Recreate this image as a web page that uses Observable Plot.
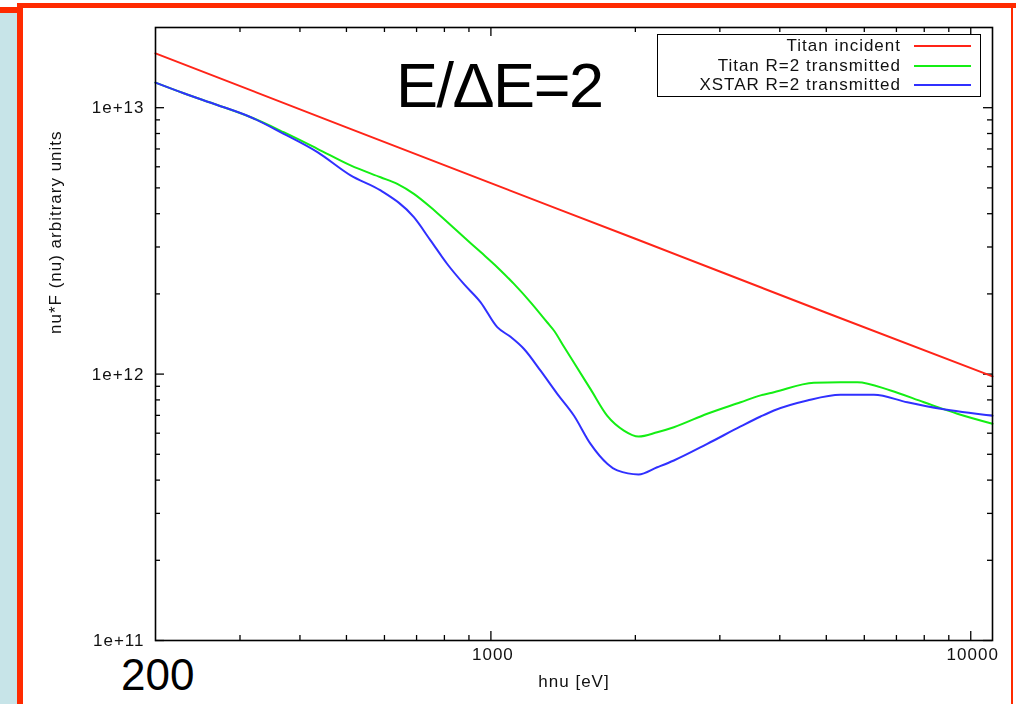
<!DOCTYPE html>
<html>
<head>
<meta charset="utf-8">
<script src="https://cdn.jsdelivr.net/npm/d3@7"></script>
<script src="https://cdn.jsdelivr.net/npm/@observablehq/plot@0.6"></script>
<style>
  html, body { margin: 0; padding: 0; background: #fff; }
  #page { position: relative; width: 1016px; height: 704px; overflow: hidden; background: #fff; font-family: "Liberation Sans", Arial, Helvetica, sans-serif; }
  #chart { position: absolute; left: 0; top: 0; }
  #chart svg { background: transparent; filter: blur(0.4px); }
  #chart svg text { letter-spacing: 1px; }
  .deco { position: absolute; }
  .slide-text { position: absolute; line-height: 1; color: #000; white-space: nowrap; }
  #legend { position: absolute; left: 657px; top: 34px; width: 322px; height: 61px; border: 1.5px solid #000; background: #fff; filter: blur(0.4px); }
  #legend .row { position: absolute; left: 0; width: 100%; height: 19px; }
  #legend .lab { position: absolute; right: 79px; top: 0; font-size: 17px; line-height: 19px; letter-spacing: 1px; color: #111; white-space: nowrap; }
  #legend .swatch { position: absolute; left: 256px; width: 57px; height: 2px; top: 9px; }
</style>
</head>
<body>
<div id="page">
  <div id="chart"></div>
  <!-- slide frame -->
  <div class="deco" style="left:0;top:13px;width:18px;height:691px;background:#c7e4e8;"></div>
  <div class="deco" style="left:0;top:7px;width:18px;height:6px;background:#ff2a00;"></div>
  <div class="deco" style="left:17px;top:3px;width:999px;height:5px;background:#ff2a00;"></div>
  <div class="deco" style="left:17px;top:3px;width:6px;height:701px;background:#ff2a00;"></div>
  <div class="deco" style="left:1011px;top:3px;width:2px;height:701px;background:#ff2a00;"></div>
  <div id="legend"></div>
  <div class="slide-text" style="left:396px;top:54px;font-size:63px;letter-spacing:-1.5px;">E/ΔE=2</div>
  <div class="slide-text" style="left:121px;top:653px;font-size:44px;">200</div>
</div>
<script>
// Photon energy hnu [eV] and nu*F(nu) in arbitrary units for each spectrum.
const incidentE = [200, 500, 1000, 2000, 5000, 11100];
const incidentF = [1.60e13, 8.44e12, 5.21e12, 3.22e12, 1.70e12, 9.8e11];

const titanE = [200, 229, 269, 316, 370, 435, 510, 589, 638, 691, 749, 811, 878, 952, 1031, 1117, 1210, 1311, 1353, 1419, 1489, 1613, 1748, 1893, 2031, 2221, 2406, 2824, 3314, 3648, 3889, 4710, 5354, 5802, 6807, 7988, 9376, 11100];
const titanF = [1.242e13, 1.133e13, 1.024e13, 9.21e12, 8.09e12, 7.01e12, 6.07e12, 5.48e12, 5.18e12, 4.75e12, 4.23e12, 3.72e12, 3.27e12, 2.87e12, 2.52e12, 2.18e12, 1.86e12, 1.562e12, 1.458e12, 1.27e12, 1.105e12, 8.78e11, 6.97e11, 6.14e11, 5.83e11, 6.05e11, 6.32e11, 7.10e11, 7.84e11, 8.32e11, 8.55e11, 9.27e11, 9.32e11, 9.32e11, 8.68e11, 7.84e11, 7.10e11, 6.51e11];

const xstarE = [200, 229, 269, 316, 370, 435, 510, 589, 691, 749, 811, 878, 952, 1031, 1099, 1171, 1269, 1375, 1489, 1613, 1748, 1834, 2031, 2221, 2406, 2824, 3314, 3648, 3889, 4564, 5354, 6283, 7376, 8654, 11100];
const xstarF = [1.242e13, 1.133e13, 1.024e13, 9.21e12, 7.98e12, 6.81e12, 5.57e12, 4.89e12, 3.88e12, 3.17e12, 2.59e12, 2.18e12, 1.86e12, 1.50e12, 1.38e12, 1.245e12, 1.03e12, 8.43e11, 6.99e11, 5.47e11, 4.61e11, 4.35e11, 4.20e11, 4.47e11, 4.74e11, 5.47e11, 6.36e11, 6.93e11, 7.30e11, 7.96e11, 8.36e11, 8.36e11, 7.84e11, 7.41e11, 6.98e11];

const seriesNames = ["Titan incident", "Titan R=2 transmitted", "XSTAR R=2 transmitted"];
const seriesColors = ["#ff2418", "#14ee14", "#3030ff"];

// Axis ticks
const xMajor = [1000, 10000];
const xMinor = [300, 400, 500, 600, 700, 800, 900, 2000, 3000, 4000, 5000, 6000, 7000, 8000, 9000];
const xTickLabels = ["1000", "10000"];
const yMajor = [1e11, 1e12, 1e13];
const yMinor = [2e11, 3e11, 4e11, 5e11, 6e11, 7e11, 8e11, 9e11, 2e12, 3e12, 4e12, 5e12, 6e12, 7e12, 8e12, 9e12];
const yTickLabels = ["1e+11", "1e+12", "1e+13"];

const xTitle = "hnu [eV]";
const yTitle = "nu*F (nu) arbitrary units";

const toRows = (E, F, name) => E.map((e, i) => ({e, f: F[i], name}));
const spectra = [
  toRows(incidentE, incidentF, seriesNames[0]),
  toRows(titanE, titanF, seriesNames[1]),
  toRows(xstarE, xstarF, seriesNames[2])
];

const W = 1016, H = 704;
const mL = 155, mR = 24, mT = 27, mB = 64;
const innerW = W - mL - mR, innerH = H - mT - mB;
const major = 9, minor = 5;
const ink = "#000";

const tickMarks = (vals, len) => [
  Plot.tickX(vals, {x: d => d, insetTop: innerH - len, stroke: ink, strokeWidth: 1.3}),
  Plot.tickX(vals, {x: d => d, insetBottom: innerH - len, stroke: ink, strokeWidth: 1.3})
];
const tickMarksY = (vals, len) => [
  Plot.tickY(vals, {y: d => d, insetRight: innerW - len, stroke: ink, strokeWidth: 1.3}),
  Plot.tickY(vals, {y: d => d, insetLeft: innerW - len, stroke: ink, strokeWidth: 1.3})
];

const chart = Plot.plot({
  width: W,
  height: H,
  marginLeft: mL,
  marginRight: mR,
  marginTop: mT,
  marginBottom: mB,
  style: {fontFamily: "'Liberation Sans', Arial, Helvetica, sans-serif", fontSize: "17px", color: "#111", background: "transparent"},
  x: {type: "log", domain: [200, 11100], axis: null},
  y: {type: "log", domain: [1e11, 2e13], axis: null},
  color: {domain: seriesNames, range: seriesColors},
  marks: [
    ...tickMarks(xMajor, major),
    ...tickMarks(xMinor, minor),
    ...tickMarksY(yMajor, major),
    ...tickMarksY(yMinor, minor),
    ...spectra.map(rows => Plot.line(rows, {x: "e", y: "f", stroke: "name", strokeWidth: 2, curve: "monotone-x"})),
    Plot.frame({stroke: ink, strokeWidth: 1.6}),
    Plot.text(xMajor, {x: d => d, text: (d, i) => xTickLabels[i], frameAnchor: "bottom", dy: 19, dx: 2, fill: "#111"}),
    Plot.text(yMajor, {y: d => d, text: (d, i) => yTickLabels[i], frameAnchor: "left", textAnchor: "end", dx: -11, fill: "#111"}),
    Plot.text([xTitle], {frameAnchor: "bottom", dy: 46, fill: "#111"}),
    Plot.text([yTitle], {frameAnchor: "left", dx: -100, rotate: -90, fill: "#111"})
  ]
});
document.getElementById("chart").appendChild(chart);

// Legend, built from the series names and colours
const legend = document.getElementById("legend");
seriesNames.forEach((name, i) => {
  const row = document.createElement("div");
  row.className = "row";
  row.style.top = (1 + i * 19.5) + "px";
  const lab = document.createElement("div");
  lab.className = "lab";
  lab.textContent = name;
  const sw = document.createElement("div");
  sw.className = "swatch";
  sw.style.background = seriesColors[i];
  row.appendChild(lab);
  row.appendChild(sw);
  legend.appendChild(row);
});
</script>
</body>
</html>
